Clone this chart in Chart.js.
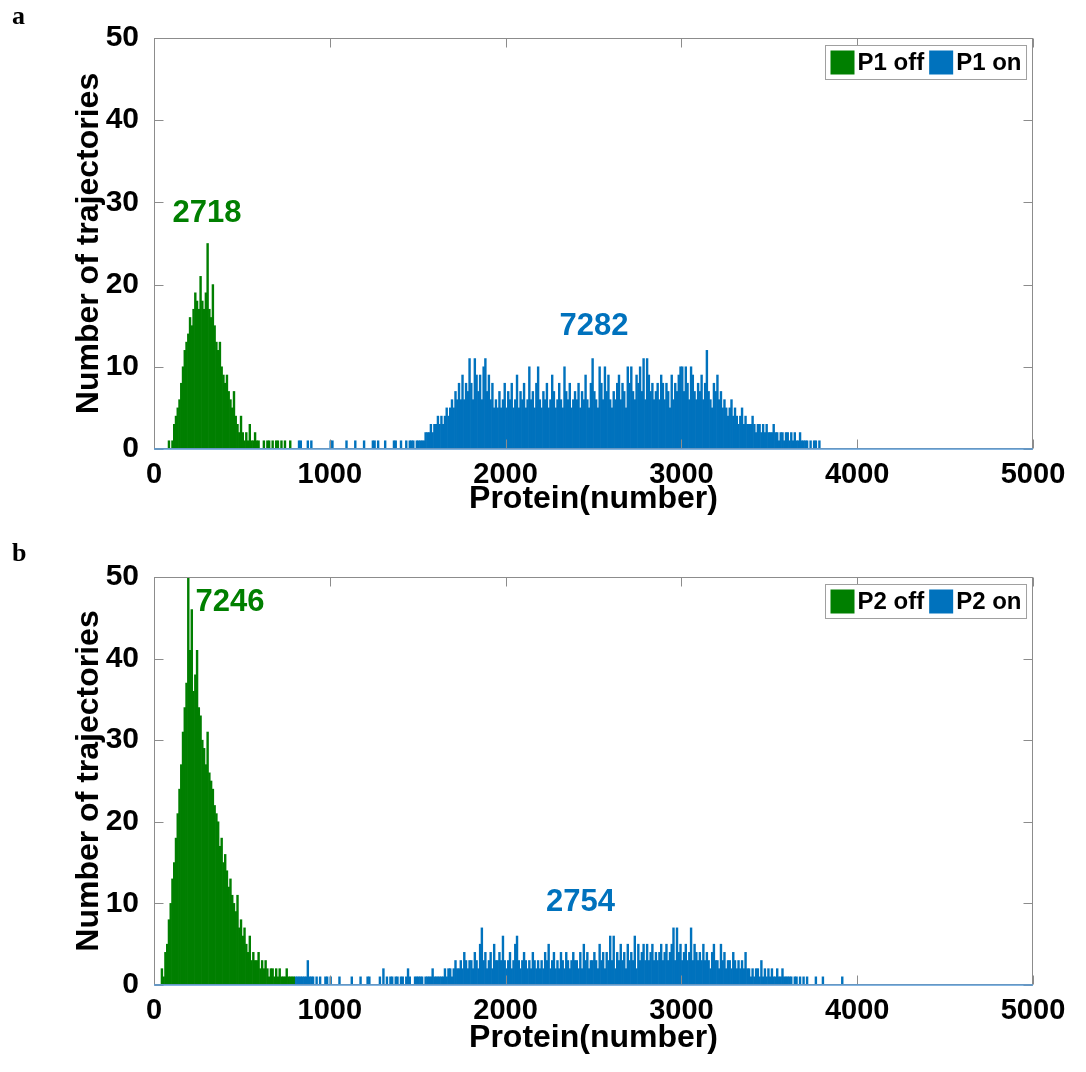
<!DOCTYPE html>
<html><head><meta charset="utf-8">
<script src="https://cdn.jsdelivr.net/npm/chart.js@4/dist/chart.umd.min.js"></script>
<style>
html,body{margin:0;padding:0;background:#fff;}
#wrap{position:relative;width:1086px;height:1072px;overflow:hidden;}
.pl{position:absolute;left:12px;font:bold 26px "Liberation Serif","Times New Roman",serif;line-height:26px;color:#000;}
#chartA{position:absolute;left:0;top:0;}
#chartB{position:absolute;left:0;top:535px;}
</style></head><body>
<div id="wrap">
<canvas id="chartA" width="1086" height="535"></canvas>
<canvas id="chartB" width="1086" height="537"></canvas>
<div class="pl" style="top:3px">a</div>
<div class="pl" style="top:540px">b</div>
</div>
<script>
// ---- data (histogram counts, bin width 10, values per bin starting at *Start) ----
const BIN = 10;
const labelsA = ['P1 off', 'P1 on'];
const labelsB = ['P2 off', 'P2 on'];
const totalsA = ['2718', '7282'];
const totalsB = ['7246', '2754'];

const p1OffStart = 80;
const p1Off = [
 1,0,1,3,4,5,6,8,10,12,
 13,14,16,15,17,19,18,17,21,18,
 17,19,25,17,16,20,15,13,12,13,
 10,9,8,9,7,6,5,7,4,3,
 2,4,2,1,2,1,3,1,1,2,
 1,1,0,0,1,0,1,1,0,1,
 0,1,1,0,1,0,1,0,0,1
];

const p1OnStart = 800;
const p1On = [
 0,0,1,1,0,0,0,1,0,1,
 0,0,0,0,0,0,0,0,0,0,
 1,1,0,0,0,0,0,0,0,1,
 0,0,0,0,1,0,0,0,0,1,
 0,0,0,0,1,1,0,1,0,0,
 0,1,0,0,0,0,1,1,0,0,
 1,0,0,1,0,1,1,1,0,1,
 1,1,1,1,2,2,2,3,2,3,
 3,4,3,4,3,4,5,4,5,6,
 5,7,6,8,6,9,6,8,7,11,
 8,6,11,9,7,9,6,10,11,7,
 9,6,8,5,6,5,7,5,6,8,
 5,7,6,8,5,6,9,5,7,6,
 8,5,6,10,6,7,5,8,10,6,
 5,7,6,8,5,6,9,7,5,6,
 8,6,5,10,7,6,8,5,6,7,
 6,8,5,7,6,9,6,5,8,11,
 7,6,5,10,8,6,10,7,9,6,
 5,7,6,8,9,6,8,7,5,10,
 8,10,7,6,9,8,10,7,11,6,
 11,9,7,8,6,7,8,6,9,8,
 6,8,7,5,9,6,8,7,9,10,
 10,7,10,8,6,10,9,7,6,8,
 7,9,6,8,12,7,6,5,8,7,
 9,6,7,5,6,5,4,5,6,4,
 5,4,3,4,5,3,4,3,3,3,
 4,3,2,3,3,2,3,2,3,2,
 2,2,3,2,2,1,2,2,1,2,
 2,1,2,1,2,1,1,2,1,1,
 1,1,0,1,0,1,1,0,1,0
];

const p2OffStart = 40;
const p2Off = [
 2,1,4,5,8,10,13,15,18,21,
 24,27,31,34,37,50,41,46,36,38,
 41,34,33,30,29,27,31,26,25,24,
 22,21,20,17,18,15,16,14,12,13,
 11,10,9,11,7,8,6,7,5,4,
 6,3,4,3,3,4,2,3,2,3,
 2,1,2,2,1,2,1,2,1,1,
 1,2,1,1,1,1
];

const p2OnStart = 800;
const p2On = [
 1,1,1,1,1,1,1,3,1,1,
 1,0,1,0,1,0,0,1,1,0,
 1,0,0,0,0,1,0,0,0,0,
 0,0,1,0,0,0,0,1,0,0,
 0,1,1,0,0,0,0,0,1,0,
 2,0,1,0,1,1,0,1,1,0,
 1,1,0,1,2,1,0,0,1,1,
 1,1,1,0,1,1,1,1,2,1,
 1,1,1,1,1,2,1,2,2,1,
 2,3,2,2,3,2,4,3,2,3,
 3,2,4,3,2,5,7,3,4,2,
 3,4,2,5,3,3,4,3,6,3,
 2,3,4,2,3,5,6,3,2,3,
 4,3,2,3,2,4,3,2,3,2,
 3,2,4,3,5,2,3,4,2,3,
 2,4,3,2,4,3,2,3,4,3,
 3,2,4,2,5,3,4,2,3,3,
 4,3,2,5,3,4,2,4,3,6,
 3,6,2,4,3,5,3,4,2,5,
 3,4,3,6,2,5,3,4,5,3,
 5,3,4,5,3,4,3,4,5,3,
 4,5,3,4,5,7,3,7,4,5,
 3,4,5,3,4,7,3,5,4,3,
 4,3,5,3,4,3,2,4,5,3,
 3,2,5,3,4,2,3,3,2,4,
 3,2,3,2,3,2,4,2,2,1,
 2,1,2,2,1,3,1,2,1,2,
 1,2,1,1,2,1,1,2,1,1,
 1,1,1,0,1,1,0,1,0,1,
 0,1,0,0,0,0,1,0,0,0,
 1,0,0,0,0,0,0,0,0,0,
 0,1,0
];

// ---- styling ----
const GREEN = '#007f00';
const BLUE = '#0072BD';
const FONT = '"Liberation Sans", Arial, sans-serif';

function toPoints(start, vals) {
  return vals.map((v, i) => ({ x: start + i * BIN + BIN / 2, y: v }));
}

function decorPlugin(legendLabels, notes) {
  return {
    id: 'decor',
    afterDatasetsDraw(chart) {
      const { ctx, chartArea: a, scales: { x, y } } = chart;
      ctx.save();
      const L = Math.round(a.left) + 0.5, R = Math.round(a.right) - 0.5;
      const T = Math.round(a.top) + 0.5, B = Math.round(a.bottom) - 0.5;
      ctx.strokeStyle = '#8c8c8c';
      ctx.lineWidth = 1;
      ctx.strokeRect(L, T, R - L, B - T);
      ctx.beginPath();
      x.ticks.forEach(t => {
        const px = Math.round(x.getPixelForValue(t.value)) + 0.5;
        ctx.moveTo(px, B); ctx.lineTo(px, B - 9);
        ctx.moveTo(px, T); ctx.lineTo(px, T + 9);
      });
      y.ticks.forEach(t => {
        const py = Math.round(y.getPixelForValue(t.value)) + 0.5;
        ctx.moveTo(L, py); ctx.lineTo(L + 9, py);
        ctx.moveTo(R, py); ctx.lineTo(R - 9, py);
      });
      ctx.stroke();
      ctx.strokeStyle = '#5a9bd6';
      ctx.lineWidth = 1.5;
      ctx.beginPath();
      const by = y.getPixelForValue(0);
      ctx.moveTo(x.getPixelForValue(0), by);
      ctx.lineTo(x.getPixelForValue(5000), by);
      ctx.stroke();
      ctx.font = 'bold 31px ' + FONT;
      ctx.textAlign = 'center';
      ctx.textBaseline = 'middle';
      notes.forEach(n => {
        ctx.fillStyle = n.color;
        ctx.fillText(n.text, x.getPixelForValue(n.x), y.getPixelForValue(n.y));
      });
      ctx.font = 'bold 24px ' + FONT;
      const colors = [GREEN, BLUE];
      const sq = 24, pad = 5, gap = 4;
      const widths = legendLabels.map(l => ctx.measureText(l).width);
      const boxW = pad + sq + gap + widths[0] + gap + sq + gap + widths[1] + gap;
      const boxH = 34;
      const bx = Math.round(a.right - 7 - boxW) + 0.5, byy = Math.round(a.top + 7) + 0.5;
      ctx.fillStyle = '#fff';
      ctx.fillRect(bx, byy, boxW, boxH);
      ctx.strokeStyle = '#a0a0a0';
      ctx.lineWidth = 1;
      ctx.strokeRect(bx, byy, boxW, boxH);
      let cx = bx + pad;
      ctx.textAlign = 'left';
      legendLabels.forEach((l, i) => {
        ctx.fillStyle = colors[i];
        ctx.fillRect(cx, byy + 5, sq, sq);
        cx += sq + gap;
        ctx.fillStyle = '#000';
        ctx.fillText(l, cx - 1, byy + boxH / 2 + 1);
        cx += widths[i] + gap;
      });
      ctx.restore();
    }
  };
}

function makeChart(id, offStart, offVals, onStart, onVals, legendLabels, notes, dims) {
  new Chart(document.getElementById(id), {
    type: 'bar',
    data: {
      datasets: [
        { label: legendLabels[0], data: toPoints(offStart, offVals), backgroundColor: GREEN,
          grouped: false, barPercentage: 1, categoryPercentage: 1, borderWidth: 0 },
        { label: legendLabels[1], data: toPoints(onStart, onVals), backgroundColor: BLUE,
          grouped: false, barPercentage: 1, categoryPercentage: 1, borderWidth: 0 }
      ]
    },
    options: {
      responsive: false,
      animation: false,
      events: [],
      layout: { padding: { top: dims.top, right: 53, left: 0, bottom: 0 } },
      plugins: { legend: { display: false }, tooltip: { enabled: false } },
      scales: {
        x: {
          type: 'linear', min: 0, max: 5000, offset: false,
          grid: { display: false }, border: { display: false },
          ticks: { stepSize: 1000, color: '#000', maxRotation: 0, autoSkip: false,
                   callback: v => String(v),
                   font: { family: FONT, size: 29, weight: 'bold' }, padding: dims.tickPad },
          title: { display: true, text: 'Protein(number)', color: '#000',
                   font: { family: FONT, size: 32, weight: 'bold' }, padding: { top: 0, bottom: dims.titlePad } },
          afterFit(s) { s.height = dims.xh; }
        },
        y: {
          min: 0, max: 50,
          grid: { display: false }, border: { display: false },
          ticks: { stepSize: 10, color: '#000', font: { family: FONT, size: 30, weight: 'bold' }, padding: 7 },
          title: { display: true, text: 'Number of trajectories', color: '#000',
                   font: { family: FONT, size: 32, weight: 'bold' }, padding: { top: 70, bottom: 0 } },
          afterFit(s) { s.width = 154; }
        }
      }
    },
    plugins: [decorPlugin(legendLabels, notes)]
  });
}

makeChart('chartA', p1OffStart, p1Off, p1OnStart, p1On, labelsA,
  [{ text: totalsA[0], x: 301, y: 28.6, color: GREEN }, { text: totalsA[1], x: 2503, y: 14.9, color: BLUE }],
  { top: 38, xh: 86, tickPad: 1, titlePad: 17 });

makeChart('chartB', p2OffStart, p2Off, p2OnStart, p2On, labelsB,
  [{ text: totalsB[0], x: 432, y: 46.9, color: GREEN }, { text: totalsB[1], x: 2426, y: 10.1, color: BLUE }],
  { top: 42, xh: 87, tickPad: 1, titlePad: 15 });
</script>
</body></html>
